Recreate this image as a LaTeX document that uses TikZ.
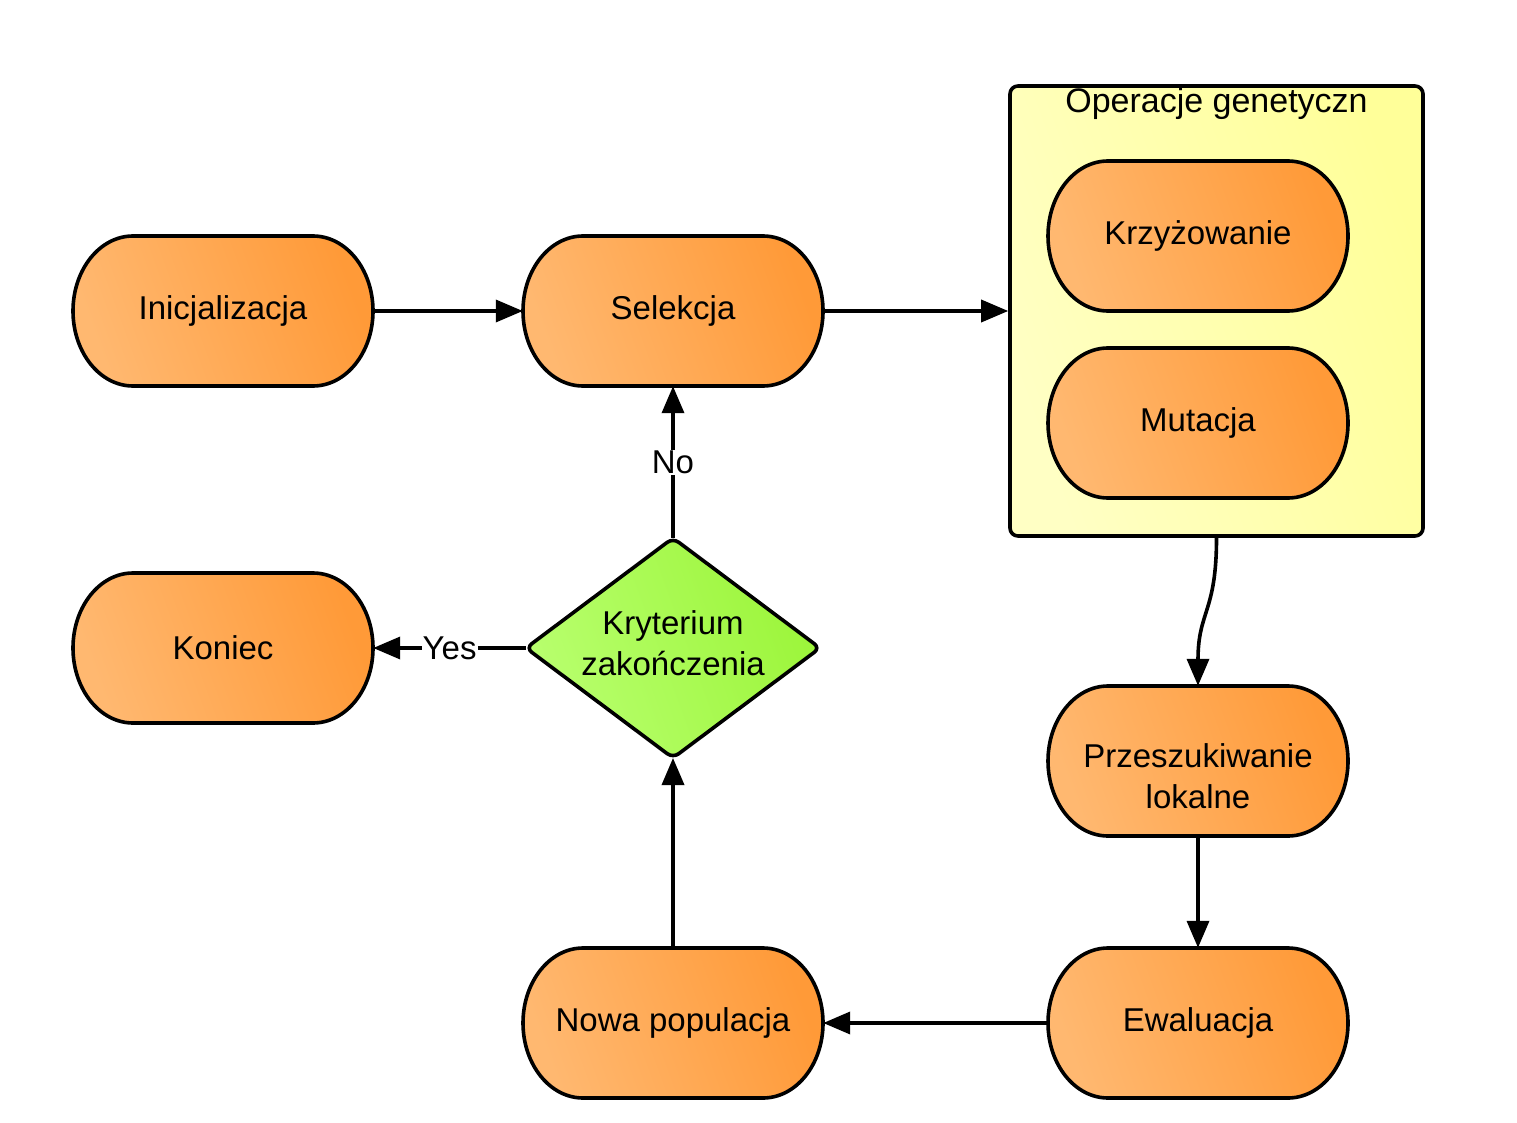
\documentclass[tikz,border=0pt]{standalone}
\usepackage{fontspec}
\setmainfont{Liberation Sans}
\usetikzlibrary{arrows.meta,calc}
\definecolor{orA}{HTML}{FFB870}
\definecolor{orB}{HTML}{FF9A38}
\definecolor{grA}{HTML}{B8FF6E}
\definecolor{grB}{HTML}{9CF53A}
\definecolor{yeA}{HTML}{FFFFC4}
\definecolor{yeB}{HTML}{FFFF99}
\tikzset{
  stfill/.style={draw=black, line width=3.6pt, left color=orA, right color=orB, shading angle=110},
  sttext/.style={minimum width=300pt, minimum height=150pt, inner sep=0pt, align=center,
    font=\fontsize{33}{41}\selectfont},
  txt/.style={inner sep=0pt, align=center, font=\fontsize{33}{41}\selectfont},
  conn/.style={line width=3.6pt, -{Triangle[length=27pt,width=22pt]}},
  lbl/.style={fill=white, inner sep=1pt, font=\fontsize{33}{41}\selectfont}
}
\newcommand\stad[4]{%
  \path[stfill] (#2-90,#3-75) -- (#2+90,#3-75)
     arc[start angle=90,end angle=-90,x radius=60pt,y radius=75pt]
     -- (#2-90,#3+75)
     arc[start angle=270,end angle=90,x radius=60pt,y radius=75pt] -- cycle;
  \node[sttext] (#1) at (#2,#3) {#4};}
\begin{document}
\begin{tikzpicture}[x=1pt,y=-1pt]
\useasboundingbox (0,0) rectangle (1517,1123);
% group box
\node[draw=black, line width=3.6pt, rounded corners=8pt, left color=yeA, right color=yeB, shading angle=110,
  minimum width=413pt, minimum height=450pt, inner sep=0pt] (grp) at (1216.5,311) {};
\node[anchor=north, inner sep=0pt, font=\fontsize{34}{40}\selectfont] (grpt) at (1216.5,88) {Operacje genetyczn};
% stadium nodes
\stad{ini}{223}{311}{Inicjalizacja}
\stad{sel}{673}{311}{Selekcja}
\stad{krz}{1198}{236}{Krzyżowanie}
\stad{mut}{1198}{423}{Mutacja}
\stad{prz}{1198}{761}{}
\node[txt] (przt) at (1198,776) {Przeszukiwanie\\lokalne};
\stad{ewa}{1198}{1023}{Ewaluacja}
\stad{now}{673}{1023}{Nowa populacja}
\stad{kon}{223}{648}{Koniec}
% diamond
\coordinate (dt) at (673,538);
\coordinate (dr) at (820,648);
\coordinate (db) at (673,758);
\coordinate (dl) at (526,648);
\path[draw=black, line width=3.6pt, rounded corners=7pt, left color=grA, right color=grB, shading angle=110]
  (dt) -- (dr) -- (db) -- (dl) -- cycle;
\node[txt] (kry) at (673,643) {Kryterium\\zakończenia};
% connectors
\draw[conn] (ini.east) -- (sel.west);
\draw[conn] (sel.east) -- (sel.east -| grp.west);
\draw[conn] (grp.south) .. controls +(0,75) and +(0,-75) .. (prz.north);
\draw[conn] (prz.south) -- (ewa.north);
\draw[conn] (ewa.west) -- (now.east);
\draw[conn] (now.north) -- (db);
\draw[conn] (dt) -- node[lbl] (no) {No} (sel.south);
\draw[conn] (dl) -- node[lbl, pos=0.5] (yes) {Yes} (kon.east);
\end{tikzpicture}
\end{document}
